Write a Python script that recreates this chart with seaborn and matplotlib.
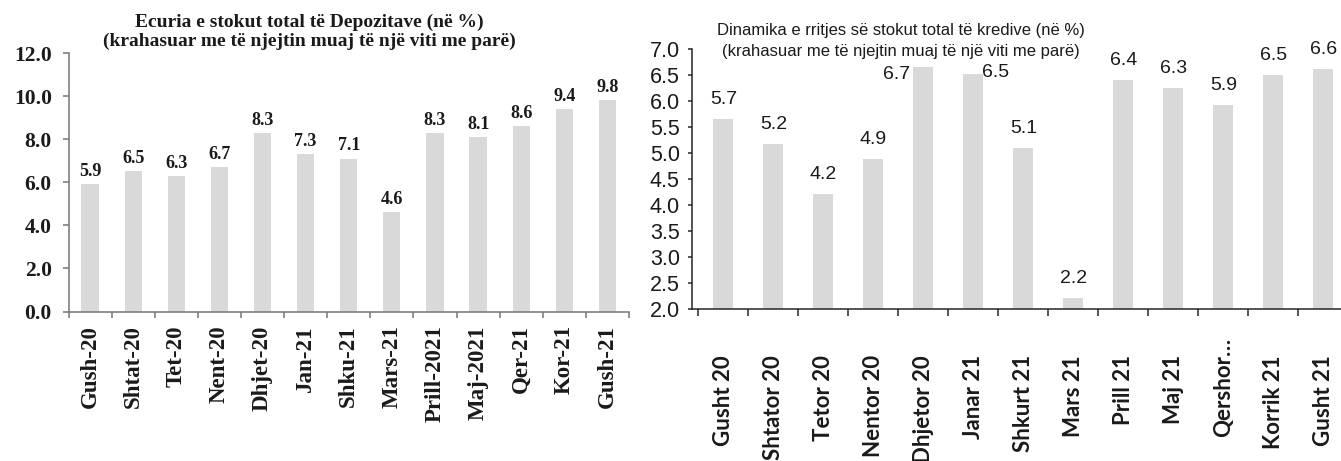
import matplotlib
matplotlib.use("Agg")
import matplotlib.pyplot as plt
import matplotlib.transforms as mtransforms
from matplotlib.ticker import FixedLocator, FormatStrFormatter
import numpy as np
import pandas as pd
import seaborn as sns

# Deposits: annual growth of the total stock (%)
dep_months = ["Gush-20", "Shtat-20", "Tet-20", "Nent-20", "Dhjet-20", "Jan-21", "Shku-21",
              "Mars-21", "Prill-2021", "Maj-2021", "Qer-21", "Kor-21", "Gush-21"]
dep_growth = [5.9, 6.5, 6.3, 6.7, 8.3, 7.3, 7.1, 4.6, 8.3, 8.1, 8.6, 9.4, 9.8]

# Loans: annual growth of the total stock (%)
loan_months = ["Gusht 20", "Shtator 20", "Tetor 20", "Nentor 20", "Dhjetor 20", "Janar 21",
               "Shkurt 21", "Mars 21", "Prill 21", "Maj 21", "Qershor…", "Korrik 21", "Gusht 21"]
loan_growth = [5.66, 5.17, 4.21, 4.89, 6.66, 6.53, 5.10, 2.21, 6.41, 6.26, 5.93, 6.50, 6.63]

dep_title = "Ecuria e stokut total të Depozitave (në %)\n(krahasuar me të njejtin muaj të një viti me parë)"
loan_title = "Dinamika e rritjes së stokut total të kredive (në %)\n(krahasuar me të njejtin muaj të një viti me parë)"

sns.set_style("white")
plt.rcParams["font.family"] = ["Liberation Sans", "DejaVu Sans"]

W, H = 1341, 461
fig = plt.figure(figsize=(W / 100, H / 100), dpi=100)
BAR = "#d9d9d9"
INK = "#1a1a1a"

def px_box(x0, y_top, x1, y_bot):
    return [x0 / W, 1 - y_bot / H, (x1 - x0) / W, (y_bot - y_top) / H]

# ---------------- left panel: deposits ----------------
serif = ["Liberation Serif", "DejaVu Serif"]
ax1 = fig.add_axes(px_box(68.5, 53, 629, 311.5))
df1 = pd.DataFrame({"month": dep_months, "growth": dep_growth})
sns.barplot(data=df1, x="month", y="growth", color=BAR, width=0.4,
            saturation=1, ax=ax1, edgecolor="none")
ax1.set_xlim(-0.5, len(dep_months) - 0.5)
ax1.set_ylim(0, 12)
ax1.set_yticks(np.arange(0, 12.1, 2))
ax1.yaxis.set_major_formatter(FormatStrFormatter("%.1f"))
ax1.set_xlabel("")
ax1.set_ylabel("")
for s in ["top", "right"]:
    ax1.spines[s].set_visible(False)
for s in ["left", "bottom"]:
    ax1.spines[s].set_color("#7f7f7f")
    ax1.spines[s].set_linewidth(1.2)
ax1.xaxis.set_minor_locator(FixedLocator(np.arange(-0.5, len(dep_months), 1.0)))
ax1.tick_params(axis="x", which="major", length=0, pad=10, rotation=90)
ax1.tick_params(axis="x", which="minor", length=4, width=1.2, color="#7f7f7f", direction="out")
ax1.tick_params(axis="y", length=4, width=1.2, color="#7f7f7f", direction="out", pad=8)
ax1.tick_params(axis="x", which="both", bottom=True)
ax1.tick_params(axis="y", left=True)
for lab in ax1.get_xticklabels():
    lab.set_fontfamily(serif)
    lab.set_fontweight("bold")
    lab.set_fontsize(16.5)
    lab.set_color(INK)
    lab.set_va("top")
for lab in ax1.get_yticklabels():
    lab.set_fontfamily(serif)
    lab.set_fontweight("bold")
    lab.set_fontsize(15.5)
    lab.set_color(INK)
ax1.bar_label(ax1.containers[0], labels=[f"{v:.1f}" for v in dep_growth], padding=3,
              fontfamily=serif, fontweight="bold", fontsize=13, color=INK)
fig.text(309 / W, 1 - 32 / H, dep_title, ha="center", va="center", multialignment="center",
         fontfamily=serif, fontweight="bold", fontsize=14, color=INK, linespacing=1.1)

# ---------------- right panel: loans ----------------
ax2 = fig.add_axes(px_box(692.3, 49.3, 1341, 309.3))
df2 = pd.DataFrame({"month": loan_months, "growth": loan_growth})
sns.barplot(data=df2, x="month", y="growth", color=BAR, width=0.4,
            saturation=1, ax=ax2, edgecolor="none")
ax2.set_xlim(-0.62, 12.354)
ax2.set_ylim(2, 7)
ax2.set_yticks(np.arange(2, 7.01, 0.5))
ax2.yaxis.set_major_formatter(FormatStrFormatter("%.1f"))
ax2.set_xlabel("")
ax2.set_ylabel("")
for s in ["top", "right"]:
    ax2.spines[s].set_visible(False)
for s in ["left", "bottom"]:
    ax2.spines[s].set_color("#262626")
    ax2.spines[s].set_linewidth(1.1)
ax2.xaxis.set_minor_locator(FixedLocator(np.arange(-0.5, len(loan_months) + 1, 1.0)))
ax2.tick_params(axis="x", which="major", length=0, pad=33, rotation=90)
ax2.tick_params(axis="x", which="minor", length=5, width=1.1, color="#262626", direction="out")
ax2.tick_params(axis="y", length=3, width=1.1, color="#262626", direction="out", pad=6,
                labelsize=15.5)
ax2.tick_params(axis="x", which="both", bottom=True)
ax2.tick_params(axis="y", left=True)
for lab in ax2.get_yticklabels():
    lab.set_color(INK)
for lab in ax2.get_xticklabels():
    lab.set_fontfamily(["Lato", "DejaVu Sans"])
    lab.set_fontweight("bold")
    lab.set_fontsize(16)
    lab.set_color(INK)
    lab.set_va("top")
# the truncated June label sits a little higher
qlab = ax2.get_xticklabels()[10]
qlab.set_transform(qlab.get_transform() + mtransforms.ScaledTranslation(0, 17 / 100, fig.dpi_scale_trans))

# value labels; December and January are set beside their bars
for i, v in enumerate(loan_growth):
    txt = f"{v:.1f}"
    if i == 4:
        ax2.annotate(txt, (i, v), xytext=(-27, -8), textcoords="offset pixels",
                     ha="center", va="center", fontsize=14, color=INK)
    elif i == 5:
        ax2.annotate(txt, (i, v), xytext=(22, 1), textcoords="offset pixels",
                     ha="center", va="center", fontsize=14, color=INK)
    else:
        ax2.annotate(txt, (i, v), xytext=(0, 11), textcoords="offset pixels",
                     ha="center", va="bottom", fontsize=14, color=INK)

fig.text(901 / W, 1 - 41 / H, loan_title, ha="center", va="center", multialignment="center",
         fontsize=12, color=INK, linespacing=1.5)

fig.savefig("out.png", dpi=100)
